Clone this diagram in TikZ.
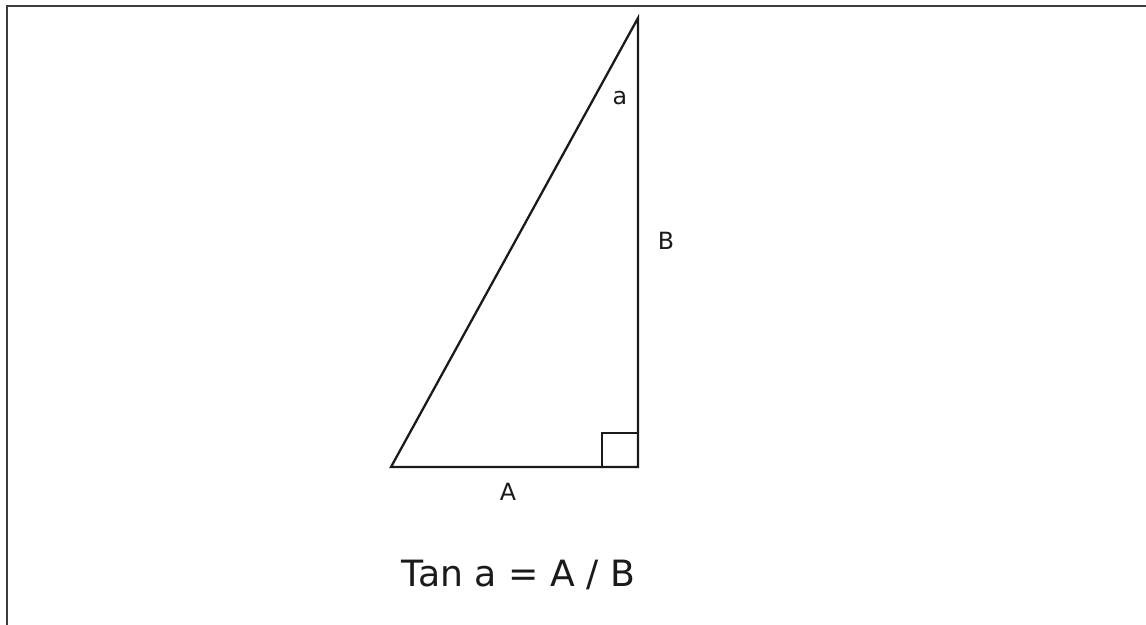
\documentclass[tikz,border=0pt]{standalone}
\usepackage{fontspec}
\setmainfont{DejaVu Sans}
\usetikzlibrary{positioning}
\definecolor{ink}{HTML}{1A1A1A}
\tikzset{
  edge/.style  = {draw=ink, line width=1.3pt, line join=miter},
  frame/.style = {draw=ink!85, line width=1.3pt},
  lab/.style   = {font=\fontsize{13.5}{16}\selectfont, text=ink, inner sep=0pt},
  eqn/.style   = {font=\fontsize{20.6}{25}\selectfont, text=ink, inner sep=0pt},
}
\begin{document}
\begin{tikzpicture}
  \useasboundingbox (0,0) rectangle (22.92,12.5);
  \coordinate (fl) at (0.14,0);
  \coordinate (ft) at (0.14,12.38);
  \coordinate (fr) at (22.92,12.38);
  \draw[frame] (fl) -- (ft) -- (fr);

  % triangle
  \coordinate (P) at (7.82,3.16);
  \coordinate (Q) at (12.76,3.16);
  \coordinate (R) at (12.76,12.14);
  \draw[edge] (P) -- (Q) -- (R) -- cycle;
  \draw[edge] ([xshift=-0.72cm]Q) |- ([yshift=0.68cm]Q);

  \node[lab] (angA) at (12.40,10.54) {a};
  \node[lab] (sideB) at (13.32,7.69) {B};
  \node[lab] (sideA) at (10.16,2.66) {A};

  \node[eqn] (tan) at (10.37,1.0) {Tan a = A / B};
\end{tikzpicture}
\end{document}
